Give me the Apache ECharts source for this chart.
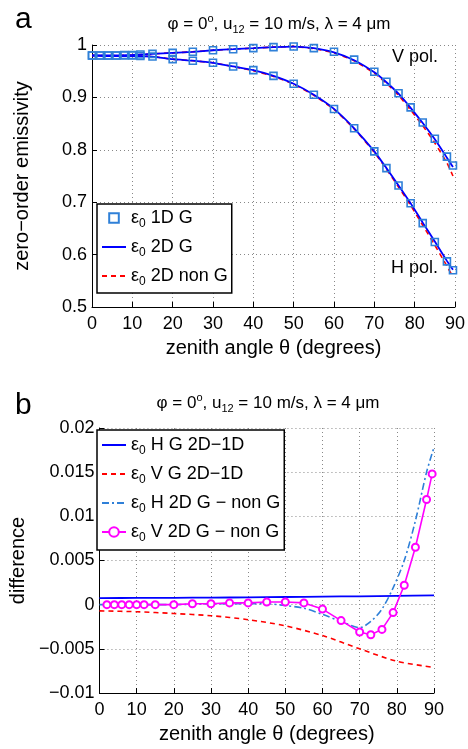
<!DOCTYPE html>
<html>
<head>
<meta charset="utf-8">
<script src="https://cdn.jsdelivr.net/npm/echarts@6/dist/echarts.min.js"></script>
<style>
  html, body { margin: 0; padding: 0; background: #fff; }
  #chart { width: 468px; height: 749px; }
</style>
</head>
<body>
<div id="chart"></div>
<script>
// panel a: zero-order emissivity, 1D G markers
const angles1D = [0, 2, 4, 6, 8, 10, 12, 15, 20, 25, 30, 35, 40, 45, 50, 55, 60, 65, 70, 73, 76, 79, 82, 85, 88, 89.5];
const v1D = [0.980, 0.980, 0.980, 0.980, 0.981, 0.981, 0.982, 0.983, 0.985, 0.987, 0.990, 0.992, 0.994, 0.996, 0.997, 0.994, 0.987, 0.972, 0.949, 0.930, 0.908, 0.881, 0.852, 0.821, 0.787, 0.770];
const h1D = [0.980, 0.980, 0.980, 0.980, 0.980, 0.980, 0.979, 0.978, 0.973, 0.970, 0.966, 0.959, 0.952, 0.941, 0.926, 0.905, 0.878, 0.841, 0.797, 0.765, 0.732, 0.698, 0.660, 0.624, 0.587, 0.570];

// panel a: 2D curves
const anglesLine = [0, 5, 10, 15, 20, 25, 30, 35, 40, 45, 50, 55, 60, 65, 70, 73, 76, 79, 82, 85, 88, 89.5];
const v2D = [0.980, 0.980, 0.981, 0.983, 0.985, 0.987, 0.990, 0.992, 0.994, 0.996, 0.997, 0.994, 0.986, 0.971, 0.948, 0.929, 0.907, 0.880, 0.851, 0.820, 0.785, 0.767];
const vNonG = [0.980, 0.980, 0.981, 0.983, 0.985, 0.987, 0.990, 0.992, 0.994, 0.996, 0.997, 0.993, 0.985, 0.970, 0.946, 0.927, 0.904, 0.876, 0.846, 0.813, 0.775, 0.750];
const h2D = [0.980, 0.979, 0.979, 0.978, 0.973, 0.970, 0.966, 0.959, 0.952, 0.941, 0.926, 0.905, 0.878, 0.841, 0.797, 0.765, 0.732, 0.698, 0.661, 0.625, 0.588, 0.571];
const hNonG = [0.980, 0.979, 0.979, 0.978, 0.973, 0.970, 0.966, 0.959, 0.951, 0.940, 0.925, 0.904, 0.877, 0.840, 0.795, 0.763, 0.729, 0.694, 0.656, 0.618, 0.578, 0.557];

// panel b: differences
const anglesDiff = [0, 10, 20, 30, 40, 50, 60, 70, 80, 90];
const hG2D1D = [0.00075, 0.00076, 0.00078, 0.00080, 0.00083, 0.00087, 0.00091, 0.00095, 0.00100, 0.00105];
const vG2D1D = [-0.0007, -0.0008, -0.0010, -0.00125, -0.0017, -0.0024, -0.0035, -0.0050, -0.0064, -0.0071];
const anglesHNon = [0, 10, 20, 30, 40, 45, 50, 55, 60, 65, 70, 73, 76, 79, 82, 85, 88, 90];
const hNonDiff = [0, 0, 0, 0.0001, 0.0001, 0.0001, -0.0001, -0.0004, -0.0011, -0.0019, -0.0026, -0.0019, -0.0005, 0.0019, 0.0050, 0.0095, 0.0150, 0.0178];
const anglesVNon = [2, 4, 6, 8, 10, 12, 15, 20, 25, 30, 35, 40, 45, 50, 55, 60, 65, 70, 73, 76, 79, 82, 85, 88, 89.5];
const vNonDiff = [0, 0, 0, 0, 0, 0, 0, 0, 0.0001, 0.0001, 0.0002, 0.0002, 0.0003, 0.0003, 0.0002, -0.0005, -0.0018, -0.0031, -0.0034, -0.0028, -0.0009, 0.0022, 0.0065, 0.0119, 0.0148];

const FONT = '"Liberation Sans", Arial, Helvetica, sans-serif';
const markerBlue = '#2f80d8';

const pairs = (xs, ys) => xs.map((x, i) => [x, ys[i]]);

const titleText = '{t|\u03c6 = 0}{sup|o}{t|, u}{sub|12}{t| = 10 m/s, \u03bb = 4 \u03bcm}';
const titleRich = {
  t: { fontSize: 17, fontFamily: FONT, fontWeight: 'normal', color: '#000', lineHeight: 22, verticalAlign: 'middle' },
  sup: { fontSize: 11, fontFamily: FONT, fontWeight: 'normal', color: '#000', lineHeight: 11, verticalAlign: 'top' },
  sub: { fontSize: 11, fontFamily: FONT, fontWeight: 'normal', color: '#000', lineHeight: 11, verticalAlign: 'bottom' }
};
const legendRich = {
  e: { fontSize: 18, fontFamily: FONT, color: '#000', lineHeight: 24, verticalAlign: 'middle' },
  s: { fontSize: 12, fontFamily: FONT, color: '#000', lineHeight: 12, verticalAlign: 'bottom' },
  t: { fontSize: 18, fontFamily: FONT, color: '#000', lineHeight: 24, verticalAlign: 'middle' }
};
const legendFmt = name => '{e|\u03b5}{s|0}{t| ' + name + '}';
const lineOnly = name => ({ name, itemStyle: { opacity: 0 } });

function xAxis(gridIndex) {
  return {
    type: 'value', gridIndex, min: 0, max: 90, interval: 10,
    name: 'zenith angle \u03b8 (degrees)', nameLocation: 'middle', nameGap: 31,
    nameTextStyle: { fontSize: 20, fontFamily: FONT, color: '#000' },
    axisLine: { show: true, onZero: false, lineStyle: { color: '#000', width: 1 } },
    axisTick: { show: true, inside: true, length: 5, lineStyle: { color: '#000' } },
    axisLabel: { fontSize: 18, fontFamily: FONT, color: '#000', margin: 8 },
    splitLine: { show: true, lineStyle: { type: [1, 3], color: '#888', width: 1 } }
  };
}

function yAxis(gridIndex, min, max, interval, name, fmt) {
  return {
    type: 'value', gridIndex, min, max, interval,
    name, nameLocation: 'middle', nameGap: 60,
    nameTextStyle: { fontSize: 20, fontFamily: FONT, color: '#000' },
    axisLine: { show: true, lineStyle: { color: '#000', width: 1 } },
    axisTick: { show: true, inside: true, length: 5, lineStyle: { color: '#000' } },
    axisLabel: { fontSize: 18, fontFamily: FONT, color: '#000', margin: 5, formatter: fmt },
    splitLine: { show: true, lineStyle: { type: [1, 3], color: '#888', width: 1 } }
  };
}

const chart = echarts.init(document.getElementById('chart'));
chart.setOption({
  animation: false,
  backgroundColor: '#fff',
  title: [
    { text: 'a', left: 10, top: 0, textStyle: { fontSize: 30, fontWeight: 'normal', fontFamily: FONT, color: '#000' } },
    { text: titleText, left: 274, top: 8, textAlign: 'center', textStyle: { fontWeight: 'normal', rich: titleRich } },
    { text: 'b', left: 10, top: 386, textStyle: { fontSize: 30, fontWeight: 'normal', fontFamily: FONT, color: '#000' } },
    { text: titleText, left: 263, top: 387, textAlign: 'center', textStyle: { fontWeight: 'normal', rich: titleRich } }
  ],
  grid: [
    { left: 92, top: 45, width: 364, height: 262 },
    { left: 92, top: 428, width: 342, height: 265 }
  ],
  xAxis: [xAxis(0), xAxis(1)],
  yAxis: [
    yAxis(0, 0.5, 1, 0.1, 'zero\u2212order emissivity', v => String(parseFloat(v.toFixed(2)))),
    yAxis(1, -0.01, 0.02, 0.005, 'difference', v => String(parseFloat(v.toFixed(3))).replace('-', '\u2212'))
  ],
  legend: [
    {
      data: ['1D G', lineOnly('2D G'), lineOnly('2D non G')], orient: 'vertical', left: 97, top: 204,
      selectedMode: false, itemWidth: 24, itemHeight: 12, itemGap: 8,
      padding: [5, 4, 5, 4], borderColor: '#000', borderWidth: 1.5, backgroundColor: '#fff',
      formatter: legendFmt, textStyle: { rich: legendRich }
    },
    {
      data: [lineOnly('H G 2D\u22121D'), lineOnly('V G 2D\u22121D'), lineOnly('H 2D G \u2212 non G'), 'V 2D G \u2212 non G'],
      orient: 'vertical', left: 97, top: 430,
      selectedMode: false, itemWidth: 24, itemHeight: 12, itemGap: 8,
      padding: [6, 4, 6, 4], borderColor: '#000', borderWidth: 1.5, backgroundColor: '#fff',
      formatter: legendFmt, textStyle: { rich: legendRich }
    }
  ],
  graphic: [
    { type: 'text', left: 392, top: 48, style: { text: 'V pol.', fontSize: 18, fontFamily: FONT, fill: '#000' } },
    { type: 'text', left: 391, top: 259, style: { text: 'H pol.', fontSize: 18, fontFamily: FONT, fill: '#000' } }
  ],
  series: [
    // panel a
    { name: '2D non G', type: 'line', xAxisIndex: 0, yAxisIndex: 0, data: pairs(anglesLine, vNonG), smooth: 0.2, symbol: 'none', lineStyle: { color: '#ff0000', width: 1.6, type: [5, 4] }, itemStyle: { color: '#ff0000' }, z: 2 },
    { name: '2D non G', type: 'line', xAxisIndex: 0, yAxisIndex: 0, data: pairs(anglesLine, hNonG), smooth: 0.2, symbol: 'none', lineStyle: { color: '#ff0000', width: 1.6, type: [5, 4] }, itemStyle: { color: '#ff0000' }, z: 2 },
    { name: '2D G', type: 'line', xAxisIndex: 0, yAxisIndex: 0, data: pairs(anglesLine, v2D), smooth: 0.2, symbol: 'none', lineStyle: { color: '#0000ff', width: 1.8 }, itemStyle: { color: '#0000ff' }, z: 3 },
    { name: '2D G', type: 'line', xAxisIndex: 0, yAxisIndex: 0, data: pairs(anglesLine, h2D), smooth: 0.2, symbol: 'none', lineStyle: { color: '#0000ff', width: 1.8 }, itemStyle: { color: '#0000ff' }, z: 3 },
    { name: '1D G', type: 'line', xAxisIndex: 0, yAxisIndex: 0, data: pairs(angles1D, v1D), symbol: 'rect', symbolSize: 7, lineStyle: { width: 0, opacity: 0 }, itemStyle: { color: 'rgba(255,255,255,0)', borderColor: markerBlue, borderWidth: 1.6 }, z: 4 },
    { name: '1D G', type: 'line', xAxisIndex: 0, yAxisIndex: 0, data: pairs(angles1D, h1D), symbol: 'rect', symbolSize: 7, lineStyle: { width: 0, opacity: 0 }, itemStyle: { color: 'rgba(255,255,255,0)', borderColor: markerBlue, borderWidth: 1.6 }, z: 4 },
    // panel b
    { name: 'H G 2D\u22121D', type: 'line', xAxisIndex: 1, yAxisIndex: 1, data: pairs(anglesDiff, hG2D1D), smooth: 0.3, symbol: 'none', lineStyle: { color: '#0000ff', width: 1.8 }, itemStyle: { color: '#0000ff' } },
    { name: 'V G 2D\u22121D', type: 'line', xAxisIndex: 1, yAxisIndex: 1, data: pairs(anglesDiff, vG2D1D), smooth: 0.3, symbol: 'none', lineStyle: { color: '#ff0000', width: 1.6, type: [5, 4] }, itemStyle: { color: '#ff0000' } },
    { name: 'H 2D G \u2212 non G', type: 'line', xAxisIndex: 1, yAxisIndex: 1, data: pairs(anglesHNon, hNonDiff), smooth: 0.3, symbol: 'none', lineStyle: { color: markerBlue, width: 1.6, type: [7, 3, 2, 3] }, itemStyle: { color: markerBlue } },
    { name: 'V 2D G \u2212 non G', type: 'line', xAxisIndex: 1, yAxisIndex: 1, data: pairs(anglesVNon, vNonDiff), symbol: 'emptyCircle', symbolSize: 7, lineStyle: { color: '#ff00ff', width: 1.6 }, itemStyle: { color: '#ff00ff', borderColor: '#ff00ff', borderWidth: 1.5 } }
  ]
});
</script>
</body>
</html>
